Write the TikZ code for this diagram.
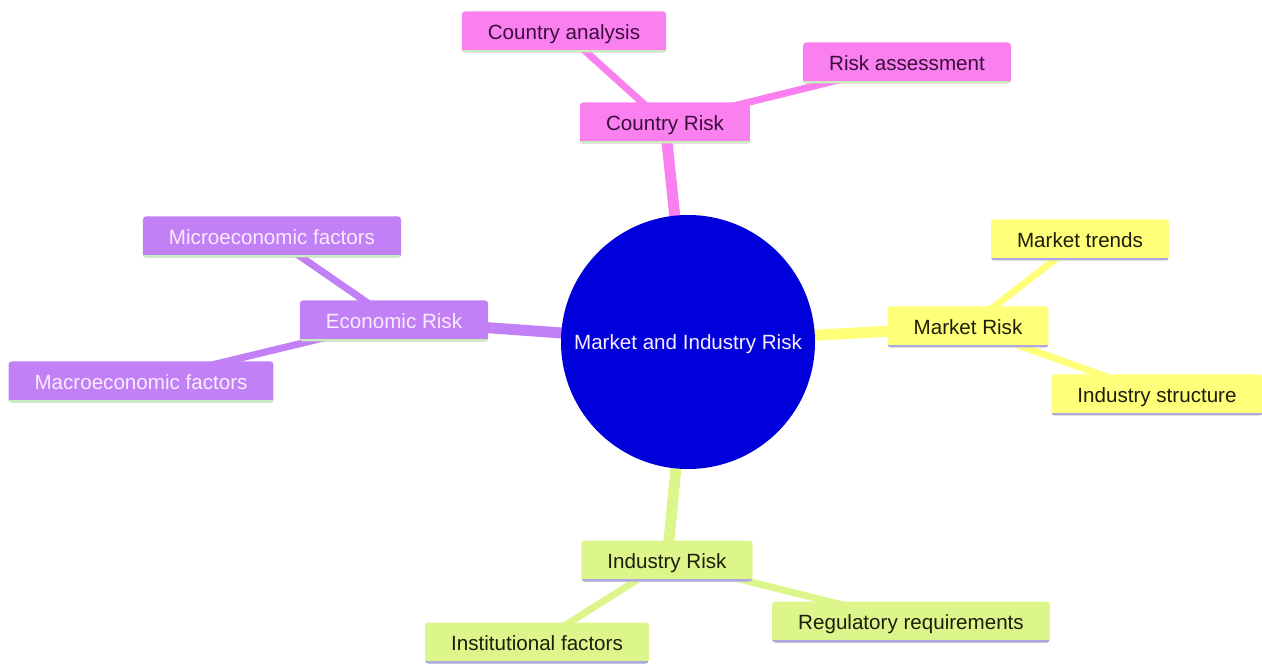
\documentclass[tikz,border=0pt]{standalone}
\usepackage{fontspec}
\setmainfont{Liberation Sans}
\usetikzlibrary{backgrounds}
\definecolor{pinkc}{RGB}{250,128,240}
\definecolor{purpc}{RGB}{193,128,245}
\definecolor{yelc}{RGB}{255,255,122}
\definecolor{grnc}{RGB}{220,246,140}
\definecolor{bluec}{RGB}{0,0,218}
\definecolor{lgreen}{RGB}{200,238,185}
\definecolor{lpurp}{RGB}{172,168,228}
\definecolor{pinktxt}{RGB}{60,12,60}
\definecolor{purptxt}{RGB}{248,236,255}
\definecolor{darktxt}{RGB}{30,30,10}
\tikzset{
  box/.style={rectangle, rounded corners=3pt, inner xsep=26pt, inner ysep=0pt,
    minimum height=41pt, text height=17pt, text depth=2.5pt,
    font=\fontsize{20.6}{24}\selectfont},
  uline/.style={path picture={\draw[line width=5pt,#1]
      (path picture bounding box.south west) -- (path picture bounding box.south east);}},
  pinkbox/.style={box, fill=pinkc, text=pinktxt, uline=lgreen},
  purpbox/.style={box, fill=purpc, text=purptxt, uline=lgreen},
  yelbox/.style={box, fill=yelc, text=darktxt, uline=lpurp},
  grnbox/.style={box, fill=grnc, text=darktxt, uline=lpurp},
  lvone/.style={line width=11pt},
  lvtwo/.style={line width=7pt},
}
\begin{document}
\begin{tikzpicture}[x=1pt,y=-1pt]
\useasboundingbox (0,0) rectangle (1262,668);
\node[circle, fill=bluec, minimum size=254pt, inner sep=0pt, text=purptxt,
  text height=17pt, text depth=2.5pt,
  font=\fontsize{20.6}{24}\selectfont] (root) at (688,342) {Market and Industry Risk};
% Country Risk
\node[pinkbox] (cr) at (665,123) {Country Risk};
\node[pinkbox] (ca) at (564,32) {Country analysis};
\node[pinkbox] (ra) at (907,63) {Risk assessment};
% Economic Risk
\node[purpbox] (er) at (394,321) {Economic Risk};
\node[purpbox] (mi) at (272,237) {Microeconomic factors};
\node[purpbox] (ma) at (141,382) {Macroeconomic factors};
% Market Risk
\node[yelbox] (mr) at (968,327) {Market Risk};
\node[yelbox] (mt) at (1080,240) {Market trends};
\node[yelbox] (is) at (1157,395) {Industry structure};
% Industry Risk
\node[grnbox] (ir) at (667,561) {Industry Risk};
\node[grnbox] (if) at (537,643) {Institutional factors};
\node[grnbox] (rr) at (911,622) {Regulatory requirements};
\begin{pgfonlayer}{background}
\draw[lvone, pinkc] (root.center) -- (cr.center);
\draw[lvtwo, pinkc] (cr.center) -- (ca.center);
\draw[lvtwo, pinkc] (cr.center) -- (ra.center);
\draw[lvone, purpc] (root.center) -- (er.center);
\draw[lvtwo, purpc] (er.center) -- (mi.center);
\draw[lvtwo, purpc] (er.center) -- (ma.center);
\draw[lvone, yelc] (root.center) -- (mr.center);
\draw[lvtwo, yelc] (mr.center) -- (mt.center);
\draw[lvtwo, yelc] (mr.center) -- (is.center);
\draw[lvone, grnc] (root.center) -- (ir.center);
\draw[lvtwo, grnc] (ir.center) -- (if.center);
\draw[lvtwo, grnc] (ir.center) -- (rr.center);
\end{pgfonlayer}
\end{tikzpicture}
\end{document}
